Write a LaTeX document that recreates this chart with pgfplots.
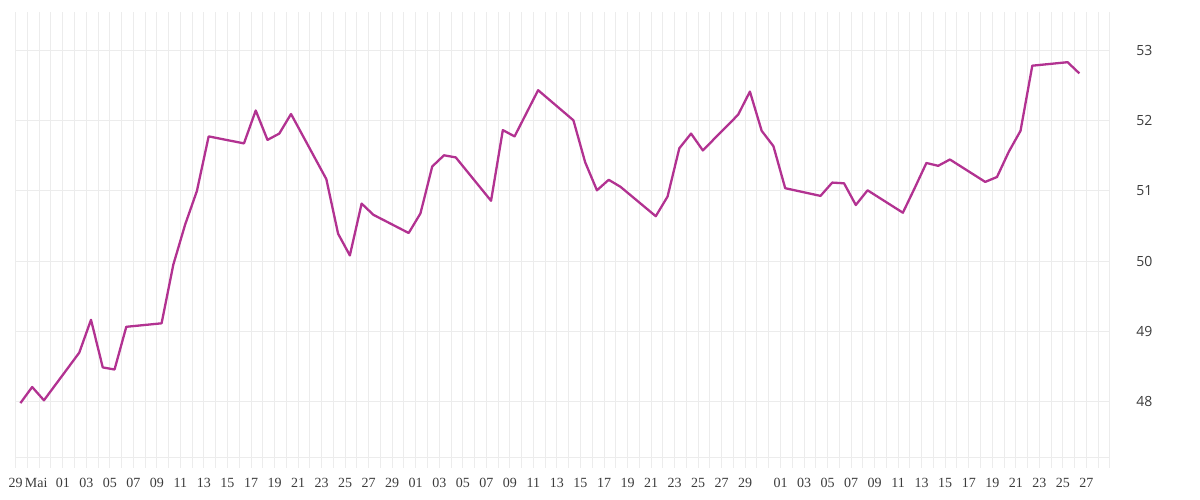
\documentclass[border=0pt]{standalone}
\usepackage{fontspec}
\setmainfont{Liberation Serif}
\newfontfamily\ylabfont{Open Sans}
\usepackage{pgfplots}
\pgfplotsset{compat=1.18}
\definecolor{linecol}{RGB}{178,50,145}
\definecolor{gridcol}{RGB}{236,236,236}
\definecolor{labcol}{RGB}{60,60,60}

\begin{document}
\begin{tikzpicture}[x=1pt,y=1pt]
\useasboundingbox (0,0) rectangle (1200,500);
\begin{axis}[
    at={(15.7pt,42pt)}, anchor=south west,
    width=1094.3pt, height=446pt, scale only axis,
    xmin=0, xmax=93, ymin=47.186, ymax=53.557,
    axis x line*=bottom, axis y line*=right,
    x axis line style={gridcol, line width=1pt},
    y axis line style={draw=none},
    xtick={0,2,...,62,65,67,...,91},
    xticklabels={29,\hspace*{-6pt}Mai,01,03,05,07,09,11,13,15,17,19,21,23,25,27,29,
                 01,03,05,07,09,11,13,15,17,19,21,23,25,27,29,
                 01,03,05,07,09,11,13,15,17,19,21,23,25,27},
    minor xtick={0,...,93},
    ytick={48,...,53},
    yticklabels={48,49,50,51,52,53},
    tick align=outside,
    major tick length=10pt, minor tick length=10pt,
    x tick style={gridcol, line width=1pt},
    y tick style={draw=none},
    xmajorgrids, xminorgrids, ymajorgrids,
    grid style={gridcol, line width=1pt},
    minor grid style={gridcol, line width=1pt},
    xticklabel style={font=\fontsize{14}{14}\selectfont, text=labcol, yshift=-7pt},
    yticklabel style={font=\ylabfont\fontsize{14}{14}\selectfont, text=labcol, xshift=13pt},
    clip=false,
]
\addplot[linecol, line width=2.3pt, line join=round] coordinates {
(0.4,47.97) (1.4,48.20) (2.4,48.01) (5.4,48.69) (6.4,49.16) (7.4,48.48)
(8.4,48.45) (9.4,49.06) (12.4,49.11) (13.4,49.95) (14.4,50.52) (15.4,51.00)
(16.4,51.78) (19.4,51.68) (20.4,52.15) (21.4,51.73) (22.4,51.82) (23.4,52.10)
(26.4,51.17) (27.4,50.39) (28.4,50.08) (29.4,50.82) (30.4,50.66) (33.4,50.40)
(34.4,50.68) (35.4,51.35) (36.4,51.51) (37.4,51.48) (40.4,50.86) (41.4,51.87)
(42.4,51.78) (43.4,52.11) (44.4,52.44) (47.4,52.01) (48.4,51.41) (49.4,51.01)
(50.4,51.16) (51.4,51.06) (54.4,50.64) (55.4,50.92) (56.4,51.61) (57.4,51.82)
(58.4,51.58) (61.4,52.09) (62.4,52.42) (63.4,51.86) (64.4,51.64) (65.4,51.04)
(68.4,50.93) (69.4,51.12) (70.4,51.11) (71.4,50.80) (72.4,51.01) (75.4,50.69)
(76.4,51.04) (77.4,51.40) (78.4,51.36) (79.4,51.45) (82.4,51.13) (83.4,51.20)
(84.4,51.56) (85.4,51.86) (86.4,52.79) (89.4,52.84) (90.4,52.68)
};
\end{axis}
\end{tikzpicture}
\end{document}
